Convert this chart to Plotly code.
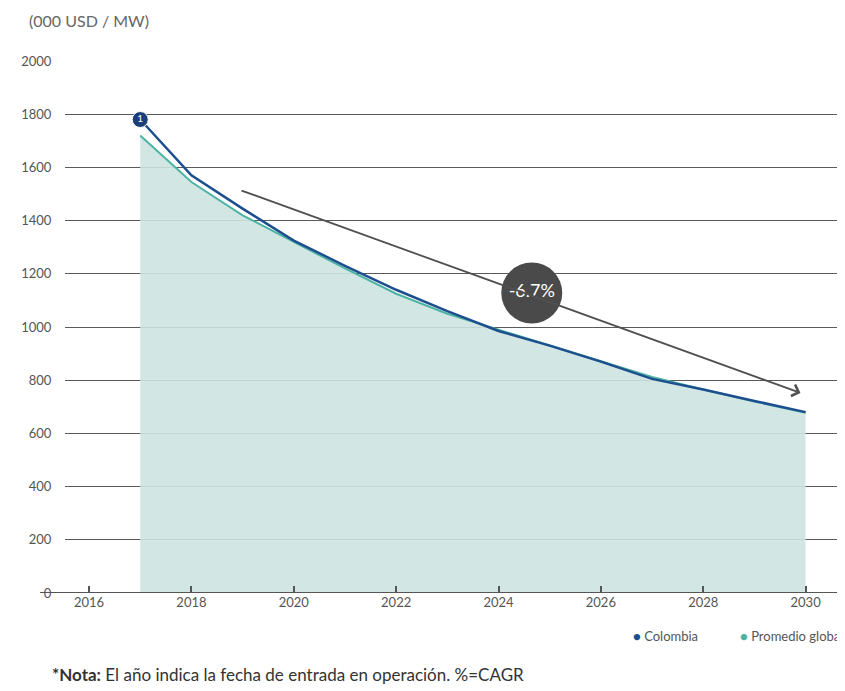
import plotly.graph_objects as go

years = [2017, 2018, 2019, 2020, 2021, 2022, 2023, 2024, 2025, 2026, 2027, 2028, 2029, 2030]
colombia = [1780, 1570, 1445, 1325, 1230, 1140, 1060, 985, 930, 870, 805, 765, 722, 680]
promedio_global = [1720, 1545, 1420, 1320, 1220, 1125, 1050, 990, 930, 870, 812, 765, 720, 678]

x_ticks = [2016, 2018, 2020, 2022, 2024, 2026, 2028, 2030]
y_ticks = [0, 200, 400, 600, 800, 1000, 1200, 1400, 1600, 1800, 2000]

cagr_text = "-6.7%"
cagr_start = (2018.95, 1515)
cagr_end = (2029.9, 752)
cagr_label = (2024.65, 1128)

COL_BLUE = "#1d4f8f"
COL_GREEN = "#4db3a4"
COL_FILL = "rgba(205, 228, 225, 0.9)"
COL_GRID = "#5a5a5a"
FONT = "Lato, Open Sans, sans-serif"

# the page body has an 8px margin, so the figure is drawn 8px smaller
PAGE_OFFSET = 8

fig = go.Figure()

# shaded area under the global average
fig.add_trace(
    go.Scatter(
        x=years, y=promedio_global, mode="lines", fill="tozeroy", fillcolor=COL_FILL,
        line=dict(color=COL_GREEN, width=2), name="Promedio global", hoverinfo="skip",
    )
)
fig.add_trace(
    go.Scatter(
        x=years, y=colombia, mode="lines", line=dict(color=COL_BLUE, width=2.5), name="Colombia",
    )
)

# note marker on first point
fig.add_trace(
    go.Scatter(
        x=years[:1], y=colombia[:1], mode="markers+text", text=["1"],
        marker=dict(size=16, color="#1a3f78", line=dict(color="white", width=1)),
        textfont=dict(size=10, color="white", family=FONT), textposition="middle center",
    )
)

# CAGR bubble
fig.add_trace(
    go.Scatter(
        x=[cagr_label[0]], y=[cagr_label[1]], mode="markers+text", text=[cagr_text],
        marker=dict(size=61, color="#4a4a4a"),
        textfont=dict(size=18, color="white", family=FONT), textposition="middle center",
    )
)

fig.add_annotation(
    x=cagr_end[0], y=cagr_end[1], ax=cagr_start[0], ay=cagr_start[1], xref="x", yref="y",
    axref="x", ayref="y", showarrow=True, arrowhead=4, arrowsize=1.3, arrowwidth=1.8,
    arrowcolor="#505050", text="",
)

fig.add_shape(
    type="line", xref="paper", yref="y", x0=-0.032, x1=1, y0=0, y1=0,
    line=dict(color="#555555", width=2),
)

# compact dot legend, as in the original
fig.add_annotation(
    text=f"<span style='color:{COL_BLUE}'>●</span> Colombia",
    xref="paper", yref="paper", x=0.726, y=-0.081, xanchor="left", yanchor="middle",
    showarrow=False, font=dict(size=13, color="#555555", family=FONT),
)
fig.add_annotation(
    text=f"<span style='color:{COL_GREEN}'>●</span> Promedio global",
    xref="paper", yref="paper", x=1.0, y=-0.081, xanchor="right", yanchor="middle",
    showarrow=False, font=dict(size=13, color="#555555", family=FONT),
)

fig.add_annotation(
    text="(000 USD / MW)", xref="paper", yref="paper", x=-0.049, y=1.077,
    xanchor="left", yanchor="middle", showarrow=False, font=dict(size=16, color="#666666", family=FONT),
)
fig.add_annotation(
    text="<b>*Nota:</b> El año indica la fecha de entrada en operación. %=CAGR",
    xref="paper", yref="paper", x=-0.019, y=-0.154, xanchor="left", yanchor="middle",
    showarrow=False, font=dict(size=17, color="#333333", family=FONT),
)

fig.update_layout(
    width=845 - PAGE_OFFSET,
    height=691 - PAGE_OFFSET,
    margin=dict(l=65 - PAGE_OFFSET, r=0, t=61 - PAGE_OFFSET, b=98),
    plot_bgcolor="white",
    paper_bgcolor="white",
    font=dict(family=FONT, color="#555555", size=13),
    xaxis=dict(
        range=[2015.53, 2030.77], tickvals=x_ticks, showgrid=False, zeroline=False,
        ticks="inside", ticklen=7, tickcolor="#555555", tickwidth=1.5,
        showline=False, tickfont=dict(size=13, color="#555555"),
    ),
    yaxis=dict(
        range=[0, 2000], tickvals=y_ticks, showgrid=True, gridcolor=COL_GRID, gridwidth=1.2,
        zeroline=False, ticks="outside", ticklen=10, tickcolor="white",
        tickfont=dict(size=13, color="#555555"),
    ),
    showlegend=False,
)

fig.write_html("out.html")
